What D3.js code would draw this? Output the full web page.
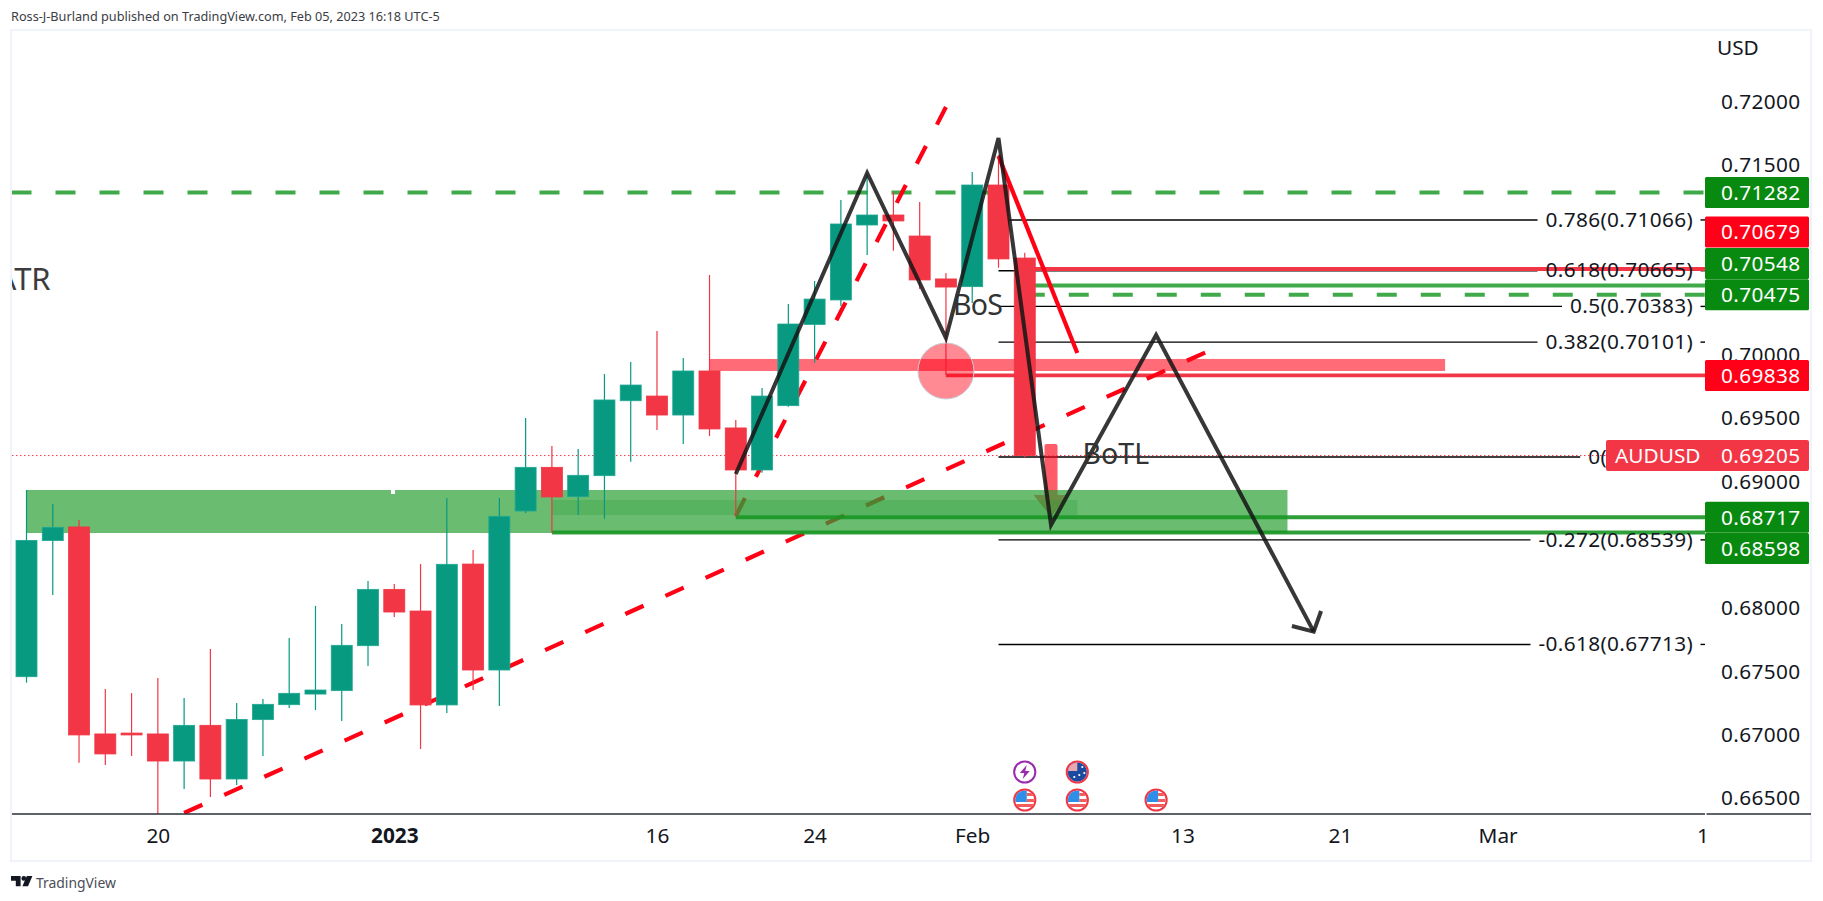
<!DOCTYPE html>
<html>
<head>
<meta charset="utf-8">
<script src="https://cdn.jsdelivr.net/npm/d3@7"></script>
<style>
  html, body { margin: 0; background: #fff; overflow: hidden; }
  svg { display: block; font-family: "Noto Sans", sans-serif; }
</style>
</head>
<body>
<svg id="chart" width="1823" height="901"></svg>
<script>
// daily AUDUSD candles
const OPENS = [0.67458, 0.68533, 0.68641, 0.67006, 0.67013, 0.67006, 0.66792, 0.67074, 0.6665, 0.67119,
  0.67237, 0.67321, 0.67348, 0.67703, 0.68148, 0.67977, 0.67235, 0.68348, 0.67511, 0.68767,
  0.69112, 0.6888, 0.69046, 0.69638, 0.69675, 0.69525, 0.69873, 0.69423, 0.69091, 0.69599,
  0.70241, 0.70434, 0.71026, 0.71105, 0.70939, 0.706, 0.70539, 0.71342, 0.70765];
const HIGHS = [0.68933, 0.68822, 0.68696, 0.67361, 0.67329, 0.67448, 0.6729, 0.67677, 0.6725, 0.67282,
  0.67764, 0.68017, 0.67874, 0.68214, 0.6819, 0.68348, 0.6887, 0.68459, 0.6887, 0.69502,
  0.6928, 0.69257, 0.69849, 0.69944, 0.70189, 0.69976, 0.70631, 0.69486, 0.69739, 0.70402,
  0.70584, 0.71224, 0.71429, 0.71289, 0.71208, 0.70647, 0.71445, 0.71579, 0.70807];
const LOWS = [0.67411, 0.68103, 0.66779, 0.66761, 0.66832, 0.66371, 0.66571, 0.66508, 0.66603, 0.66832,
  0.67211, 0.67195, 0.67108, 0.67543, 0.6793, 0.66887, 0.67171, 0.67353, 0.67227, 0.68751,
  0.68596, 0.68735, 0.68704, 0.69156, 0.69407, 0.69296, 0.69359, 0.68722, 0.6907, 0.6959,
  0.69938, 0.70386, 0.70789, 0.70823, 0.70521, 0.69841, 0.7041, 0.70689, 0.6919];
const CLOSES = [0.68535, 0.68638, 0.66998, 0.66848, 0.66998, 0.66792, 0.67074, 0.6665, 0.67121, 0.6724,
  0.67327, 0.67353, 0.67706, 0.68148, 0.67969, 0.67235, 0.68346, 0.67511, 0.68725, 0.69112,
  0.68878, 0.69049, 0.69644, 0.69762, 0.69525, 0.69873, 0.69415, 0.69091, 0.69675, 0.70244,
  0.70441, 0.71034, 0.71105, 0.71058, 0.70592, 0.70536, 0.71342, 0.70758, 0.69205];

const PRICE_TICKS = [0.72, 0.715, 0.71, 0.705, 0.7, 0.695, 0.69, 0.685, 0.68, 0.675, 0.67, 0.665];
const TIME_TICK_BARS = [5, 14, 24, 30, 36, 44, 50, 56, 63.8];
const TIME_TICK_LABELS = ["20", "2023", "16", "24", "Feb", "13", "21", "Mar", "1"];

const FIB_LEVELS = [0.786, 0.618, 0.5, 0.382, 0, -0.272, -0.618];
const FIB_PRICES = [0.71066, 0.70665, 0.70383, 0.70101, 0.69194, 0.68539, 0.67713];

const LABEL_PRICES = [0.71282, 0.70679, 0.70548, 0.70475, 0.69838, 0.68717, 0.68598];
const LABEL_KINDS = ["green", "red", "green", "green", "red", "green", "green"];

// drawing tools, in [bar, price]
const DOUBLE_TOP = [[27, 0.69059], [32, 0.71437], [35, 0.70134], [37, 0.71713], [39, 0.68656], [43, 0.70157], [49, 0.67814]];
const ARROW_WINGS = [[48.17, 0.67859], [49, 0.67814], [49.28, 0.67977]];
const STEEP_TREND = [[27, 0.68728], [35, 0.71958]];
const SHALLOW_TREND = [[6, 0.66382], [45, 0.70031]];
const RED_LEG = [[37, 0.71571], [40, 0.70015]];
const CIRCLE_AT = [35, 0.69873];
const US_EVENTS = [38, 40, 43];
const AU_EVENTS = [40];
const SPLIT_EVENTS = [38];

const PLOT = { left: 12, right: 1705, top: 31, bottom: 814, edge: 1811 };
const FRAME = { left: 11, right: 1811, top: 30, bottom: 861 };
const BAR_WIDTH = 21;
const FONT_SIZE = 20.8;
const TRACKING = 0.35;
const TEXT = "#131722";
const UP = "#089981";
const DOWN = "#f23645";
const LINE_RED = "#ff0015";
const LINE_GREEN = "rgb(43,160,53)";
const LABEL_FILL = { green: "#088a10", red: "#ff0018" };
// the price scale stacks labels that would overlap
const LABEL_NUDGE = { 0.70679: -37, 0.70548: -22, 0.68598: 16 };

const x = d3.scaleLinear().domain([0, 64]).range([26.5, 26.5 + 64 * 26.27]);
const y = d3.scaleLinear().domain([0.665, 0.72]).range([798, 101.7]);
const lineXY = d3.line().x((d) => x(d[0])).y((d) => y(d[1]));

const svg = d3.select("#chart");
svg.append("rect").attr("width", 1823).attr("height", 901).attr("fill", "#fff");

svg.append("defs").append("clipPath").attr("id", "plot-clip").append("rect")
  .attr("x", PLOT.left).attr("y", PLOT.top)
  .attr("width", PLOT.right - PLOT.left).attr("height", PLOT.bottom - PLOT.top);
svg.select("defs").append("clipPath").attr("id", "icon-clip").append("circle").attr("r", 9.6);

svg.append("text").attr("x", 11).attr("y", 21).attr("fill", "#3a3d45").attr("font-size", 12.7)
  .text("Ross-J-Burland published on TradingView.com, Feb 05, 2023 16:18 UTC-5");

svg.append("rect")
  .attr("x", FRAME.left).attr("y", FRAME.top)
  .attr("width", FRAME.right - FRAME.left).attr("height", FRAME.bottom - FRAME.top)
  .attr("fill", "none").attr("stroke", "#f0f3fa").attr("stroke-width", 2);

const plot = svg.append("g").attr("clip-path", "url(#plot-clip)");
const fibLines = plot.append("g");

const hline = (price, fromX, color, width, dash) =>
  plot.append("line")
    .attr("x1", fromX).attr("x2", PLOT.right)
    .attr("y1", y(price)).attr("y2", y(price))
    .attr("stroke", color).attr("stroke-width", width)
    .attr("stroke-dasharray", dash || null);

// everything the zones and candles sit on top of
hline(0.71282, 11.5, LINE_GREEN, 4, "20,24").attr("stroke-opacity", 0.9);
hline(0.70475, x(38), LINE_GREEN, 4, "20,24").attr("stroke-opacity", 0.9);
hline(0.70548, x(38), LINE_GREEN, 4).attr("stroke-opacity", 0.9);
hline(0.70679, x(38), DOWN, 4);
hline(0.69838, x(35), DOWN, 3.6);

[STEEP_TREND, SHALLOW_TREND].forEach((trend) => {
  plot.append("path").attr("d", lineXY(trend)).attr("fill", "none")
    .attr("stroke", LINE_RED).attr("stroke-width", 4.2).attr("stroke-dasharray", "20,24");
});

// fib retracement: line, level text, then the short stub at the scale
const fib = svg.append("g");
FIB_LEVELS.forEach((level, i) => {
  const yy = y(FIB_PRICES[i]);
  const label = fib.append("text")
    .attr("x", 1693).attr("y", yy).attr("dy", "0.32em").attr("text-anchor", "end")
    .attr("fill", TEXT).attr("font-size", FONT_SIZE).attr("letter-spacing", TRACKING)
    .text(`${level}(${d3.format(".5f")(FIB_PRICES[i])})`);
  const start = 1693 - label.node().getComputedTextLength();
  fibLines.append("line").attr("x1", x(37)).attr("x2", start - 8).attr("y1", yy).attr("y2", yy)
    .attr("stroke", "#000").attr("stroke-width", 1.4);
  fibLines.append("line").attr("x1", 1700.5).attr("x2", PLOT.right).attr("y1", yy).attr("y2", yy)
    .attr("stroke", "#000").attr("stroke-width", 1.4);
});

// pink arrow at the last leg, it ends under the green zone
const ax = x(39);
plot.append("path")
  .attr("d", `M${ax - 6.5} ${y(0.69296) + 2} q0 -2 2 -2 h9 q2 0 2 2 V${y(0.68893)} h11 L${ax} ${y(0.6872)} L${ax - 17.5} ${y(0.68893)} h11 Z`)
  .attr("fill", LINE_RED).attr("fill-opacity", 0.64);

const zone = (fromBar, toBar, top, bottom, opacity, color) =>
  plot.append("rect")
    .attr("x", x(fromBar)).attr("width", x(toBar) - x(fromBar))
    .attr("y", y(top)).attr("height", y(bottom) - y(top))
    .attr("fill", color).attr("fill-opacity", opacity);

zone(0, 48, 0.68933, 0.68593, 0.7, LINE_GREEN);
zone(20, 40, 0.68854, 0.68735, 0.3, LINE_GREEN);
plot.append("rect").attr("x", 391).attr("y", y(0.68933)).attr("width", 4).attr("height", 4).attr("fill", "#fff");
zone(26, 54, 0.69968, 0.69873, 0.58, LINE_RED);

hline(0.68717, x(27), LINE_GREEN, 4).attr("stroke", "rgb(24,150,36)").attr("stroke-opacity", 0.9);
hline(0.68598, x(20), LINE_GREEN, 4).attr("stroke", "rgb(24,150,36)").attr("stroke-opacity", 0.9);

plot.append("line")
  .attr("x1", PLOT.left).attr("x2", 1606)
  .attr("y1", y(0.69205)).attr("y2", y(0.69205))
  .attr("stroke", DOWN).attr("stroke-width", 1).attr("stroke-dasharray", "1.5,2.5");

// candles
const candles = plot.append("g").selectAll("g").data(OPENS).join("g");
candles.append("line")
  .attr("x1", (d, i) => x(i)).attr("x2", (d, i) => x(i))
  .attr("y1", (d, i) => y(HIGHS[i])).attr("y2", (d, i) => y(LOWS[i]))
  .attr("stroke", (d, i) => (CLOSES[i] >= d ? UP : DOWN)).attr("stroke-width", 1.2);
candles.append("rect")
  .attr("x", (d, i) => x(i) - BAR_WIDTH / 2).attr("width", BAR_WIDTH)
  .attr("y", (d, i) => y(Math.max(d, CLOSES[i])))
  .attr("height", (d, i) => Math.max(1.5, Math.abs(y(d) - y(CLOSES[i]))))
  .attr("fill", (d, i) => (CLOSES[i] >= d ? UP : DOWN))
  .attr("stroke", (d, i) => (CLOSES[i] >= d ? "#1fa892" : DOWN)).attr("stroke-width", 0.8);

// the hand drawn bits on top
plot.append("path").attr("d", lineXY(RED_LEG)).attr("fill", "none")
  .attr("stroke", LINE_RED).attr("stroke-width", 4.2);

plot.append("circle").attr("cx", x(CIRCLE_AT[0])).attr("cy", y(CIRCLE_AT[1])).attr("r", 28)
  .attr("fill", LINE_RED).attr("fill-opacity", 0.46)
  .attr("stroke", "#c9ccd6").attr("stroke-width", 1);

[DOUBLE_TOP, ARROW_WINGS].forEach((pts) => {
  plot.append("path").attr("d", lineXY(pts)).attr("fill", "none")
    .attr("stroke", "#141414").attr("stroke-opacity", 0.85)
    .attr("stroke-width", 4).attr("stroke-linejoin", "miter");
});

plot.append("text").attr("x", x(0.92)).attr("y", y(0.70513)).attr("text-anchor", "end")
  .attr("font-size", 31).attr("fill", "#3c3c3c").text("ATR");
plot.append("text").attr("x", x(35.27)).attr("y", y(0.70315))
  .attr("font-size", 28.5).attr("letter-spacing", -0.8).attr("fill", "#333").text("BoS");
plot.append("text").attr("x", x(40.2)).attr("y", y(0.69138))
  .attr("font-size", 28.5).attr("fill", "#333").text("BoTL");

// event icons above the time axis
const icon = (bar, cy, stroke) => {
  const g = svg.append("g").attr("transform", `translate(${x(bar)},${cy})`);
  g.append("circle").attr("r", 10.6).attr("fill", "#fff").attr("stroke", stroke).attr("stroke-width", 2);
  return g;
};
US_EVENTS.forEach((bar) => {
  const g = icon(bar, 800, DOWN);
  const c = g.append("g").attr("clip-path", "url(#icon-clip)");
  c.append("rect").attr("x", 2).attr("y", -7).attr("width", 8).attr("height", 3).attr("fill", "#f25c5c");
  c.append("rect").attr("x", 2).attr("y", -1).attr("width", 8).attr("height", 3).attr("fill", "#f25c5c");
  c.append("rect").attr("x", -10).attr("y", 4).attr("width", 20).attr("height", 3).attr("fill", "#f25c5c");
  c.append("rect").attr("x", -10).attr("y", -10).attr("width", 12).attr("height", 12).attr("fill", "#2f8fe8");
});
AU_EVENTS.forEach((bar) => {
  const g = icon(bar, 772, DOWN);
  const c = g.append("g").attr("clip-path", "url(#icon-clip)");
  c.append("rect").attr("x", -10).attr("y", -10).attr("width", 20).attr("height", 20).attr("fill", "#1c4aa0");
  c.append("rect").attr("x", -10).attr("y", -10).attr("width", 10).attr("height", 9).attr("fill", "#e8a8b0");
  [[5, -5], [2, 3], [7, 1], [-3, 5]].forEach((s) => {
    c.append("circle").attr("cx", s[0]).attr("cy", s[1]).attr("r", 1.1).attr("fill", "#fff");
  });
});
SPLIT_EVENTS.forEach((bar) => {
  const g = icon(bar, 772, "#9c27b0");
  g.append("path").attr("d", "M2 -7 L-5 1 H-0.5 L-2 7 L5 -1 H0.5 Z").attr("fill", "#9c27b0");
});

// axes
const xAxis = svg.append("g").attr("transform", `translate(0,${PLOT.bottom})`)
  .call(d3.axisBottom(x).tickValues(TIME_TICK_BARS)
    .tickFormat((d, i) => TIME_TICK_LABELS[i]).tickSize(0).tickPadding(14));
xAxis.select(".domain").remove();
xAxis.selectAll("text").attr("fill", TEXT).attr("font-size", FONT_SIZE).attr("font-family", '"Noto Sans", sans-serif')
  .attr("font-weight", (d, i) => (TIME_TICK_LABELS[i] === "2023" ? 700 : 400));

svg.append("line").attr("x1", PLOT.left).attr("x2", PLOT.right).attr("y1", PLOT.bottom).attr("y2", PLOT.bottom)
  .attr("stroke", "#2a2e39").attr("stroke-width", 1.4);
svg.append("line").attr("x1", PLOT.right + 1.5).attr("x2", PLOT.edge).attr("y1", PLOT.bottom).attr("y2", PLOT.bottom)
  .attr("stroke", "#2a2e39").attr("stroke-width", 1.4);

const yAxis = svg.append("g").attr("transform", "translate(1721,0)")
  .call(d3.axisRight(y).tickValues(PRICE_TICKS).tickFormat(d3.format(".5f")).tickSize(0).tickPadding(0));
yAxis.select(".domain").remove();
yAxis.selectAll("text").attr("fill", TEXT).attr("font-size", FONT_SIZE).attr("letter-spacing", TRACKING)
  .attr("font-family", '"Noto Sans", sans-serif');

svg.append("text").attr("x", 1717).attr("y", 55).attr("fill", TEXT).attr("font-size", FONT_SIZE).text("USD");

// price labels
LABEL_PRICES.forEach((price, i) => {
  const cy = y(price) + (LABEL_NUDGE[price] || 0);
  svg.append("rect").attr("x", PLOT.right).attr("y", cy - 15.5).attr("width", 104).attr("height", 31)
    .attr("rx", 1.5).attr("fill", LABEL_FILL[LABEL_KINDS[i]]);
  svg.append("text").attr("x", 1721).attr("y", cy).attr("dy", "0.35em")
    .attr("fill", "#fff").attr("font-size", FONT_SIZE).attr("letter-spacing", TRACKING)
    .text(d3.format(".5f")(price));
});

const lastY = y(CLOSES[CLOSES.length - 1]);
svg.append("rect").attr("x", 1606).attr("y", lastY - 15.5).attr("width", 203).attr("height", 31)
  .attr("rx", 2).attr("fill", DOWN);
svg.append("text").attr("x", 1615).attr("y", lastY).attr("dy", "0.35em")
  .attr("fill", "#fff").attr("font-size", FONT_SIZE).text("AUDUSD");
svg.append("text").attr("x", 1721).attr("y", lastY).attr("dy", "0.35em")
  .attr("fill", "#fff").attr("font-size", FONT_SIZE).attr("letter-spacing", TRACKING)
  .text(d3.format(".5f")(CLOSES[CLOSES.length - 1]));

// TradingView mark
const logo = svg.append("g").attr("fill", TEXT);
logo.append("path").attr("d", "M11 876h9.6v10.2h-4.8v-5.4H11z");
logo.append("circle").attr("cx", 23.8).attr("cy", 878.4).attr("r", 2.4);
logo.append("path").attr("d", "M32.4 876l-4.4 10.2h-5.6l4.4-10.2z");
svg.append("text").attr("x", 36).attr("y", 888).attr("fill", "#4a4d57").attr("font-size", 13.9).text("TradingView");
</script>
</body>
</html>
